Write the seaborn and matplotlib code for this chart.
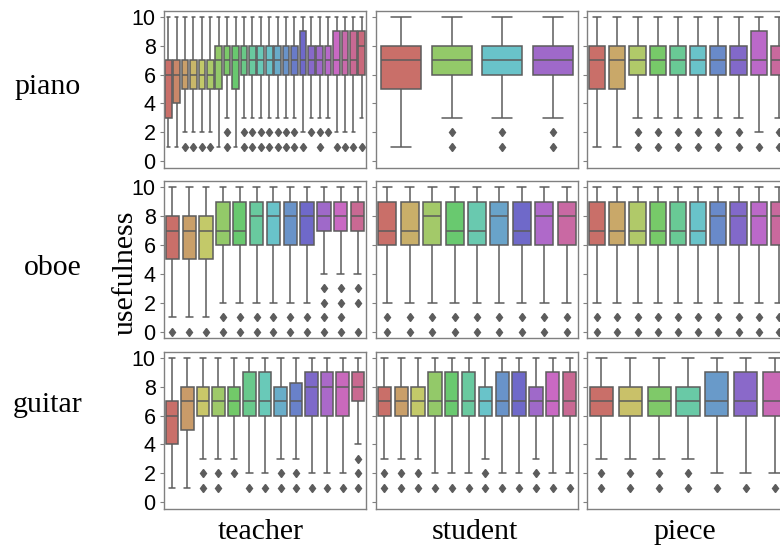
import matplotlib
matplotlib.use("Agg")
import matplotlib.pyplot as plt
import seaborn as sns
import pandas as pd

# ---------------- data (five-number summaries) ----------------
# high whisker is 10 for every box
piano_teacher_lo = [1, 1, 2, 2, 2, 2, 1, 3, 1, 3, 3, 3, 3, 3, 3, 3, 2, 3, 3, 3, 2, 2, 2, 3]
piano_teacher_q1 = [3, 4, 5, 5, 5, 5, 5, 6, 5, 6, 6, 6, 6, 6, 6, 6, 6, 6, 6, 6, 6, 6, 6, 6]
piano_teacher_med = [6, 6, 6, 6, 6, 6, 7, 7, 7, 7, 7, 7, 7, 7, 7, 7, 7, 7, 7, 7, 7, 7, 7, 8]
piano_teacher_q3 = [7, 7, 7, 7, 7, 7, 8, 8, 8, 8, 8, 8, 8, 8, 8, 8, 9, 8, 8, 8, 9, 9, 9, 9]
piano_teacher_out = [[], [], [1], [1], [1], [1], [], [2, 1], [], [2, 1], [2, 1], [2, 1],
                     [2, 1], [2, 1], [2, 1], [2, 1], [1], [2], [2, 1], [2], [1], [1], [1], [1]]

piano_student_lo = [1, 3, 3, 3]
piano_student_q1 = [5, 6, 6, 6]
piano_student_med = [7, 7, 7, 7]
piano_student_q3 = [8, 8, 8, 8]
piano_student_out = [[], [2, 1], [2, 1], [2, 1]]

piano_piece_lo = [1, 1, 3, 3, 3, 3, 3, 3, 2, 3]
piano_piece_q1 = [5, 5, 6, 6, 6, 6, 6, 6, 6, 6]
piano_piece_med = [7, 7, 7, 7, 7, 7, 7, 7, 7, 7]
piano_piece_q3 = [8, 8, 8, 8, 8, 8, 8, 8, 9, 8]
piano_piece_out = [[], [], [2, 1], [2, 1], [2, 1], [2, 1], [2, 1], [2, 1], [1], [2, 1]]

oboe_teacher_lo = [1, 1, 1, 2, 2, 2, 2, 2, 2, 4, 4, 4]
oboe_teacher_q1 = [5, 5, 5, 6, 6, 6, 6, 6, 6, 7, 7, 7]
oboe_teacher_med = [7, 7, 7, 7, 7, 8, 8, 8, 8, 8, 8, 8]
oboe_teacher_q3 = [8, 8, 8, 9, 9, 9, 9, 9, 9, 9, 9, 9]
oboe_teacher_out = [[0], [0], [0], [1, 0], [1, 0], [1, 0], [1, 0], [1, 0], [1, 0],
                    [3, 2, 1, 0], [3, 2, 1, 0], [3, 2, 0]]

oboe_student_lo = [2, 2, 2, 2, 2, 2, 2, 2, 2]
oboe_student_q1 = [6, 6, 6, 6, 6, 6, 6, 6, 6]
oboe_student_med = [7, 7, 8, 7, 7, 8, 7, 8, 8]
oboe_student_q3 = [9, 9, 9, 9, 9, 9, 9, 9, 9]
oboe_student_out = [[1, 0], [1, 0], [1, 0], [1, 0], [1, 0], [1, 0], [1, 0], [1, 0], [1, 0]]

oboe_piece_lo = [2, 2, 2, 2, 2, 2, 2, 2, 2, 2]
oboe_piece_q1 = [6, 6, 6, 6, 6, 6, 6, 6, 6, 6]
oboe_piece_med = [7, 7, 7, 7, 7, 7, 8, 8, 8, 8]
oboe_piece_q3 = [9, 9, 9, 9, 9, 9, 9, 9, 9, 9]
oboe_piece_out = [[1, 0], [1, 0], [1, 0], [1, 0], [1, 0], [1, 0], [1, 0], [1, 0], [1, 0], [1, 0]]

guitar_teacher_lo = [1, 1, 3, 3, 3, 2, 2, 3, 3, 2, 2, 2, 4]
guitar_teacher_q1 = [4, 5, 6, 6, 6, 6, 6, 6, 6, 6, 6, 6, 7]
guitar_teacher_med = [6, 7, 7, 7, 7, 7, 7, 7, 7, 8, 8, 8, 8]
guitar_teacher_q3 = [7, 8, 8, 8, 8, 9, 9, 8, 8.25, 9, 9, 9, 9]
guitar_teacher_out = [[], [], [2, 1], [2, 1], [2], [1], [1], [2, 1], [2, 1], [1], [1], [1], [3, 2, 1]]

guitar_student_lo = [3, 3, 3, 2, 2, 2, 3, 2, 2, 3, 2, 2]
guitar_student_q1 = [6, 6, 6, 6, 6, 6, 6, 6, 6, 6, 6, 6]
guitar_student_med = [7, 7, 7, 7, 7, 7, 7, 7, 7, 7, 7, 7]
guitar_student_q3 = [8, 8, 8, 9, 9, 9, 8, 9, 9, 8, 9, 9]
guitar_student_out = [[2, 1], [2, 1], [2, 1], [1], [1], [1], [2, 1], [1], [1], [2, 1], [1], [1]]

guitar_piece_lo = [3, 3, 3, 3, 2, 2, 2]
guitar_piece_q1 = [6, 6, 6, 6, 6, 6, 6]
guitar_piece_med = [7, 7, 7, 7, 7, 7, 7]
guitar_piece_q3 = [8, 8, 8, 8, 9, 9, 9]
guitar_piece_out = [[2, 1], [2, 1], [2, 1], [2, 1], [1], [1], [1]]

HIGH = 10
instruments = ["piano", "oboe", "guitar"]
roles = ["teacher", "student", "piece"]
y_ticks = [0, 2, 4, 6, 8, 10]

panels = {
    ("piano", "teacher"): (piano_teacher_lo, piano_teacher_q1, piano_teacher_med, piano_teacher_q3, piano_teacher_out),
    ("piano", "student"): (piano_student_lo, piano_student_q1, piano_student_med, piano_student_q3, piano_student_out),
    ("piano", "piece"): (piano_piece_lo, piano_piece_q1, piano_piece_med, piano_piece_q3, piano_piece_out),
    ("oboe", "teacher"): (oboe_teacher_lo, oboe_teacher_q1, oboe_teacher_med, oboe_teacher_q3, oboe_teacher_out),
    ("oboe", "student"): (oboe_student_lo, oboe_student_q1, oboe_student_med, oboe_student_q3, oboe_student_out),
    ("oboe", "piece"): (oboe_piece_lo, oboe_piece_q1, oboe_piece_med, oboe_piece_q3, oboe_piece_out),
    ("guitar", "teacher"): (guitar_teacher_lo, guitar_teacher_q1, guitar_teacher_med, guitar_teacher_q3, guitar_teacher_out),
    ("guitar", "student"): (guitar_student_lo, guitar_student_q1, guitar_student_med, guitar_student_q3, guitar_student_out),
    ("guitar", "piece"): (guitar_piece_lo, guitar_piece_q1, guitar_piece_med, guitar_piece_q3, guitar_piece_out),
}


def panel_frame(lo, q1, med, q3, out):
    """Expand each five-number summary into a sample with those statistics."""
    rows = []
    for i in range(len(lo)):
        vals = [lo[i]] + [q1[i]] * 20 + [med[i]] * 20 + [q3[i]] * 20 + [HIGH] + list(out[i])
        rows += [(str(i), v) for v in vals]
    return pd.DataFrame(rows, columns=["cat", "usefulness"])


# ---------------- figure ----------------
sns.set_theme(style="white")
plt.rcParams["font.family"] = ["Liberation Sans", "DejaVu Sans"]

W, H = 780, 548
fig = plt.figure(figsize=(W / 100, H / 100), dpi=100)

col_left = [164, 376, 587]
col_w = 202
row_top = [10.5, 181, 351.5]
row_h = 157

LINE = "#5c5c5c"
SPINE = "#808080"

for r, inst in enumerate(instruments):
    for c, role in enumerate(roles):
        ax = fig.add_axes([col_left[c] / W, (H - row_top[r] - row_h) / H, col_w / W, row_h / H])
        lo, q1, med, q3, out = panels[(inst, role)]
        df = panel_frame(lo, q1, med, q3, out)
        order = [str(i) for i in range(len(lo))]
        sns.boxplot(data=df, x="cat", y="usefulness", hue="cat", order=order, hue_order=order,
                    palette="hls", saturation=0.72, legend=False, ax=ax, width=0.8,
                    linecolor=LINE, linewidth=1.1,
                    flierprops=dict(marker="d", markersize=4.5, markerfacecolor=LINE,
                                    markeredgecolor=LINE))
        ax.set_xlim(-0.5, len(lo) - 0.5)
        ax.set_ylim(-0.45, 10.45)
        ax.set_yticks(y_ticks)
        ax.set_xticks([])
        ax.set_xlabel("")
        ax.set_ylabel("")
        for s in ax.spines.values():
            s.set_color(SPINE)
            s.set_linewidth(1.0)
        ax.tick_params(axis="y", left=True, length=3, width=0.8, color=SPINE, pad=3,
                       labelsize=15.5, labelcolor="black", labelleft=(c == 0))

serif = ["Liberation Serif", "DejaVu Serif"]
TS = 21.5
fig.text(48 / W, 1 - 94 / H, "piano", ha="center", va="baseline", fontsize=TS, family=serif, color="black")
fig.text(53 / W, 1 - 275 / H, "oboe", ha="center", va="baseline", fontsize=TS, family=serif, color="black")
fig.text(47.5 / W, 1 - 411.5 / H, "guitar", ha="center", va="baseline", fontsize=TS, family=serif, color="black")
fig.text(126 / W, 1 - 272.5 / H, "usefulness", ha="center", va="center", rotation=90,
         fontsize=TS, family=serif, color="black")
for x, lab in zip([261, 475, 685], roles):
    fig.text(x / W, 1 - 539 / H, lab, ha="center", va="baseline", fontsize=TS, family=serif, color="black")

fig.savefig("out.png", dpi=100, facecolor="white")
